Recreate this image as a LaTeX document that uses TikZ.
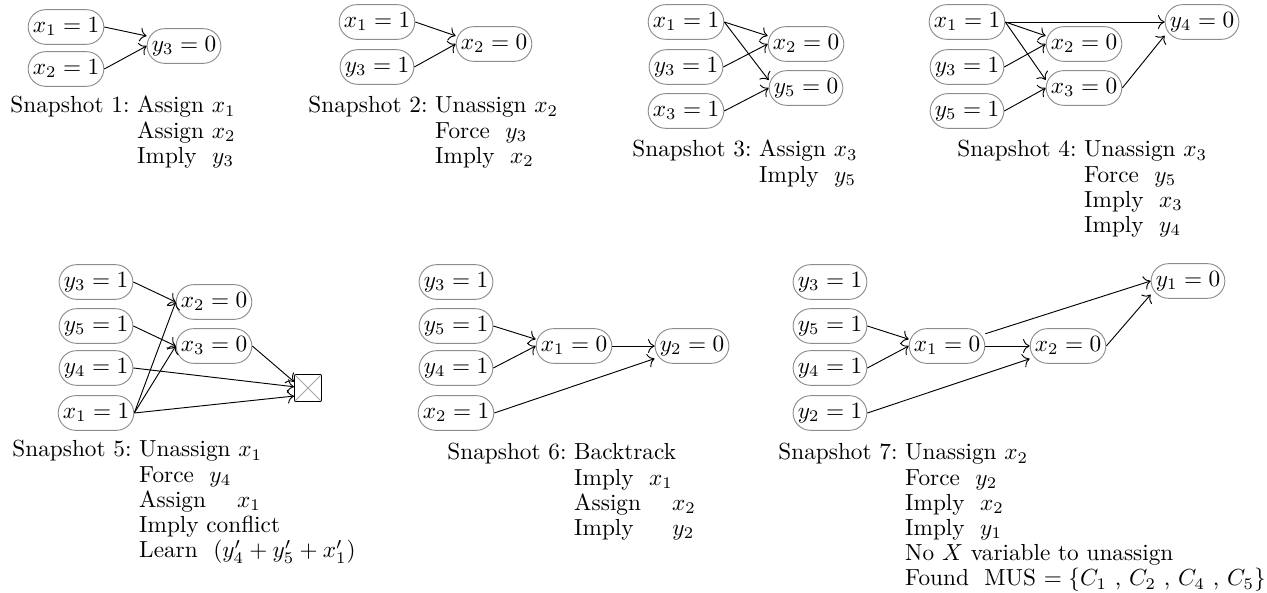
\documentclass[tikz,border=0pt]{standalone}
\usetikzlibrary{arrows.meta}

\begin{document}
\begin{tikzpicture}[
  x=0.43pt, y=-0.43pt,
  var/.style={
    rectangle, rounded corners=7.5pt, draw=black!45,
    text height=6.5pt, text depth=2pt,
    inner xsep=2pt, inner ysep=3.2pt
  },
  link/.style={-{To[scale=1.15]}, black},
  conflict/.style={draw, minimum size=11.6pt, inner sep=0pt},
  caption/.style={anchor=base west, inner sep=0pt}
]
\useasboundingbox (0,0) rectangle (1267,593);
\renewcommand{\arraystretch}{0.9}

% ==================== SNAPSHOT 1 ====================
\node (s1x1) [var] at (66,27) {$x_1 = 1$};
\node (s1x2) [var] at (66,69) {$x_2 = 1$};
\node (s1y3) [var] at (184,46) {$y_3 = 0$};
\draw [link] (s1x1.east) -- (s1y3.165);
\draw [link] (s1x2.east) -- (s1y3.west);
\node (cap1) [caption] at (10,113) {\begin{tabular}[t]{@{}l@{\ }l@{}}
  Snapshot 1: & Assign $x_1$\\
              & Assign $x_2$\\
              & Imply\ \ $y_3$
\end{tabular}};

% ==================== SNAPSHOT 2 ====================
\node (s2x1) [var] at (377,22) {$x_1 = 1$};
\node (s2y3) [var] at (377,67) {$y_3 = 1$};
\node (s2x2) [var] at (494,44) {$x_2 = 0$};
\draw [link] (s2x1.east) -- (s2x2.168);
\draw [link] (s2y3.east) -- (s2x2.west);
\node (cap2) [caption] at (308,113) {\begin{tabular}[t]{@{}l@{\ }l@{}}
  Snapshot 2: & Unassign $x_2$\\
              & Force\ \ $y_3$\\
              & Imply\ \ $x_2$
\end{tabular}};

% ==================== SNAPSHOT 3 ====================
\node (s3x1) [var] at (686,22) {$x_1 = 1$};
\node (s3y3) [var] at (686,67) {$y_3 = 1$};
\node (s3x3) [var] at (686,111) {$x_3 = 1$};
\node (s3x2) [var] at (806,44) {$x_2 = 0$};
\node (s3y5) [var] at (806,88) {$y_5 = 0$};
\draw [link] (s3x1.east) -- (s3x2.168);
\draw [link] (s3x1.east) -- (s3y5.168);
\draw [link] (s3y3.east) -- (s3x2.west);
\draw [link] (s3x3.east) -- (s3y5.west);
\node (cap3) [caption] at (632,157) {\begin{tabular}[t]{@{}l@{\ }l@{}}
  Snapshot 3: & Assign $x_3$\\
              & Imply\ \ $y_5$
\end{tabular}};

% ==================== SNAPSHOT 4 ====================
\node (s4x1) [var] at (967,22) {$x_1 = 1$};
\node (s4y3) [var] at (967,67) {$y_3 = 1$};
\node (s4y5) [var] at (967,111) {$y_5 = 1$};
\node (s4x2) [var] at (1084,44) {$x_2 = 0$};
\node (s4x3) [var] at (1084,88) {$x_3 = 0$};
\node (s4y4) [var] at (1202,22) {$y_4 = 0$};
\draw [link] (s4x1) -- (s4y4);
\draw [link] (s4x1.east) -- (s4x2.168);
\draw [link] (s4x1.east) -- (s4x3.168);
\draw [link] (s4y3.east) -- (s4x2.west);
\draw [link] (s4y5.east) -- (s4x3.west);
\draw [link] (s4x3.east) -- (s4y4.200);
\node (cap4) [caption] at (957,157) {\begin{tabular}[t]{@{}l@{\ }l@{}}
  Snapshot 4: & Unassign $x_3$\\
              & Force\ \ $y_5$\\
              & Imply\ \ $x_3$\\
              & Imply\ \ $y_4$
\end{tabular}};

% ==================== SNAPSHOT 5 ====================
\node (s5y3) [var] at (96,282) {$y_3 = 1$};
\node (s5y5) [var] at (96,326) {$y_5 = 1$};
\node (s5y4) [var] at (96,368) {$y_4 = 1$};
\node (s5x1) [var] at (96,413) {$x_1 = 1$};
\node (s5x2) [var] at (214,302) {$x_2 = 0$};
\node (s5x3) [var] at (214,346) {$x_3 = 0$};
\node (s5c) [conflict] at (308,388) {};
\draw [black!35] (s5c.north west) -- (s5c.south east)
                 (s5c.north east) -- (s5c.south west);
\draw [link] (s5y3.east) -- (s5x2.west);
\draw [link] (s5y5.east) -- (s5x3.west);
\draw [link] (s5x1.east) -- (s5x2.west);
\draw [link] (s5x1.east) -- (s5x3.west);
\draw [link] (s5x3.east) -- (s5c.156);
\draw [link] (s5y4.east) -- (s5c.175);
\draw [link] (s5x1.east) -- (s5c.210);
\node (cap5) [caption] at (12,457) {\begin{tabular}[t]{@{}l@{\ }l@{}}
  Snapshot 5: & Unassign $x_1$\\
              & Force\ \ $y_4$\\
              & Assign \quad $x_1$\\
              & Imply conflict\\
              & Learn\ \ $(y_4' + y_5' + x_1')$
\end{tabular}};

% ==================== SNAPSHOT 6 ====================
\node (s6y3) [var] at (456,282) {$y_3 = 1$};
\node (s6y5) [var] at (456,326) {$y_5 = 1$};
\node (s6y4) [var] at (456,368) {$y_4 = 1$};
\node (s6x2) [var] at (456,413) {$x_2 = 1$};
\node (s6x1) [var] at (574,346) {$x_1 = 0$};
\node (s6y2) [var] at (692,346) {$y_2 = 0$};
\draw [link] (s6y5.east) -- (s6x1.170);
\draw [link] (s6y4.east) -- (s6x1.west);
\draw [link] (s6x1) -- (s6y2);
\draw [link] (s6x2.east) -- (s6y2);
\node (cap6) [caption] at (447,460) {\begin{tabular}[t]{@{}l@{\ }l@{}}
  Snapshot 6: & Backtrack\\
              & Imply\ \ $x_1$\\
              & Assign \quad $x_2$\\
              & Imply \quad\ $y_2$
\end{tabular}};

% ==================== SNAPSHOT 7 ====================
\node (s7y3) [var] at (830,282) {$y_3 = 1$};
\node (s7y5) [var] at (830,326) {$y_5 = 1$};
\node (s7y4) [var] at (830,368) {$y_4 = 1$};
\node (s7y2) [var] at (830,413) {$y_2 = 1$};
\node (s7x1) [var] at (947,346) {$x_1 = 0$};
\node (s7x2) [var] at (1068,346) {$x_2 = 0$};
\node (s7y1) [var] at (1188,281) {$y_1 = 0$};
\draw [link] (s7y5.east) -- (s7x1.170);
\draw [link] (s7y4.east) -- (s7x1.west);
\draw [link] (s7x1) -- (s7x2);
\draw [link] (s7y2.east) -- (s7x2);
\draw [link] (s7x1) -- (s7y1.west);
\draw [link] (s7x2.east) -- (s7y1.200);
\node (cap7) [caption] at (778,460) {\begin{tabular}[t]{@{}l@{\ }l@{}}
  Snapshot 7: & Unassign $x_2$\\
              & Force\ \ $y_2$\\
              & Imply\ \ $x_2$\\
              & Imply\ \ $y_1$\\
              & No $X$ variable to unassign\\
              & Found\ \ MUS $=\{$$C_1$ , $C_2$ , $C_4$ , $C_5\}$
\end{tabular}};

\end{tikzpicture}
\end{document}
